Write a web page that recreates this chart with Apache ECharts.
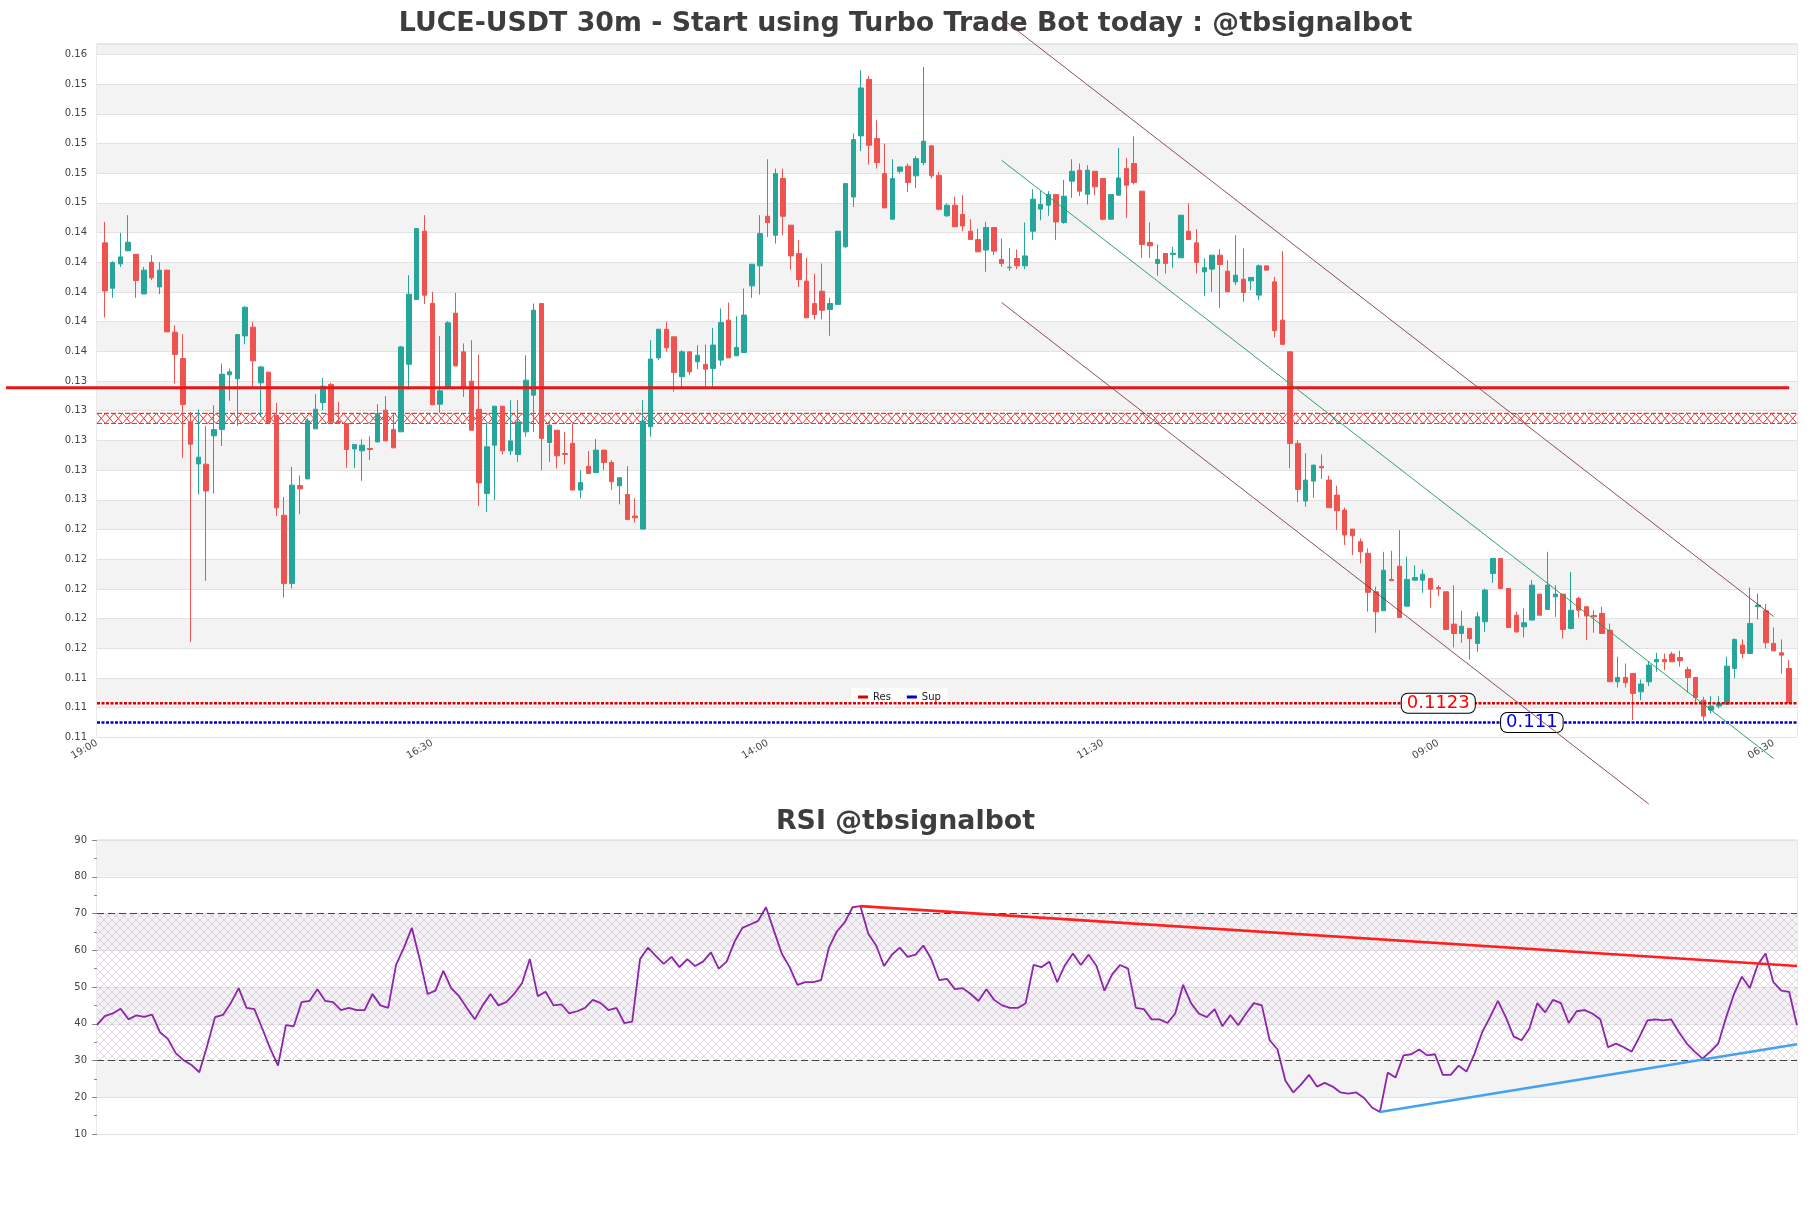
<!DOCTYPE html>
<html><head><meta charset="utf-8">
<script src="https://cdn.jsdelivr.net/npm/echarts/dist/echarts.min.js"></script>
<style>html,body{margin:0;padding:0;background:#fff}#chart{width:1811px;height:1208px}</style>
</head><body><div id="chart"></div>
<script>
// ---------- DATA ----------
const mainTitle = 'LUCE-USDT 30m - Start using Turbo Trade Bot today : @tbsignalbot';
const rsiTitle = 'RSI @tbsignalbot';
const startMinutes = 19 * 60;      // first category 19:00
const stepMinutes = 30;
const categoryCount = 219;
const labelEvery = 43;

// candles [open, close, low, high], first candle at category 1
const candles = [
[0.14331,0.14007,0.13828,0.14472],[0.14025,0.14198,0.13960,0.14207],[0.14189,0.14236,0.14169,0.14398],[0.14277,0.14335,0.14277,0.14517],
[0.14254,0.14077,0.13960,0.14254],[0.13987,0.14147,0.13987,0.14169],[0.14200,0.14095,0.14079,0.14248],[0.14034,0.14147,0.13985,0.14200],
[0.14147,0.13731,0.13731,0.14147],[0.13729,0.13579,0.13383,0.13776],[0.13552,0.13242,0.12883,0.13716],[0.13125,0.12975,0.11643,0.13192],
[0.12842,0.12887,0.12636,0.13208],[0.12840,0.12660,0.12054,0.13096],[0.13031,0.13073,0.12642,0.13237],[0.13073,0.13446,0.12963,0.13518],
[0.13442,0.13462,0.13267,0.13484],[0.13415,0.13713,0.13098,0.13713],[0.13704,0.13897,0.13648,0.13904],[0.13763,0.13536,0.13361,0.13796],
[0.13388,0.13495,0.13159,0.13502],[0.13460,0.13121,0.13114,0.13460],[0.13168,0.12546,0.12492,0.13253],[0.12496,0.12036,0.11942,0.12620],
[0.12036,0.12699,0.12003,0.12822],[0.12696,0.12674,0.12503,0.12764],[0.12741,0.13132,0.12741,0.13148],[0.13078,0.13210,0.13078,0.13311],
[0.13255,0.13365,0.13204,0.13421],[0.13377,0.13123,0.13118,0.13388],[0.13127,0.13118,0.13114,0.13260],[0.13114,0.12939,0.12815,0.13114],
[0.12943,0.12972,0.12815,0.12972],[0.12930,0.12968,0.12728,0.13008],[0.12946,0.12939,0.12867,0.13028],[0.12990,0.13181,0.12990,0.13244],
[0.13204,0.12997,0.12997,0.13298],[0.13073,0.12950,0.12950,0.13181],[0.13058,0.13630,0.13058,0.13637],[0.13513,0.13985,0.13343,0.14113],
[0.13949,0.14427,0.13949,0.14427],[0.14409,0.13978,0.13918,0.14517],[0.13924,0.13240,0.13240,0.14001],[0.13244,0.13334,0.13186,0.13704],
[0.13359,0.13792,0.13343,0.13803],[0.13857,0.13502,0.13502,0.13994],[0.13597,0.13361,0.13293,0.13653],[0.13399,0.13069,0.13069,0.13675],
[0.13210,0.12714,0.12559,0.13579],[0.12642,0.12957,0.12519,0.13118],[0.12968,0.13231,0.12598,0.13231],[0.13231,0.12930,0.12907,0.13231],
[0.12930,0.12997,0.12901,0.13271],[0.12905,0.13125,0.12856,0.13271],[0.13058,0.13406,0.13025,0.13574],[0.13305,0.13877,0.13058,0.13922],
[0.13922,0.13013,0.12800,0.13922],[0.12986,0.13103,0.12856,0.13126],[0.13069,0.12897,0.12811,0.13069],[0.12912,0.12906,0.12838,0.13058],
[0.12980,0.12666,0.12666,0.13114],[0.12666,0.12717,0.12610,0.12800],[0.12826,0.12778,0.12778,0.12928],[0.12784,0.12935,0.12784,0.13009],
[0.12935,0.12852,0.12800,0.12935],[0.12852,0.12722,0.12666,0.12868],[0.12695,0.12749,0.12569,0.12749],[0.12636,0.12468,0.12464,0.12827],
[0.12491,0.12479,0.12446,0.12610],[0.12403,0.13130,0.12403,0.13271],[0.13092,0.13548,0.13025,0.13675],[0.13556,0.13749,0.13541,0.13749],
[0.13749,0.13624,0.13597,0.13799],[0.13698,0.13458,0.13328,0.13698],[0.13429,0.13597,0.13361,0.13608],[0.13597,0.13462,0.13440,0.13597],
[0.13530,0.13574,0.13480,0.13642],[0.13512,0.13480,0.13361,0.13646],[0.13485,0.13642,0.13361,0.13758],[0.13541,0.13794,0.13503,0.13889],
[0.13810,0.13556,0.13556,0.13929],[0.13570,0.13626,0.13570,0.13837],[0.13592,0.13844,0.13592,0.14023],[0.14041,0.14187,0.13960,0.14187],
[0.14176,0.14393,0.13983,0.14517],[0.14510,0.14467,0.14371,0.14894],[0.14382,0.14797,0.14326,0.14831],[0.14764,0.14510,0.14382,0.14831],
[0.14450,0.14243,0.14151,0.14450],[0.14259,0.14084,0.14034,0.14349],[0.14073,0.13826,0.13826,0.14230],[0.13922,0.13848,0.13815,0.14124],
[0.14005,0.13877,0.13815,0.14192],[0.13882,0.13922,0.13705,0.13960],[0.13916,0.14409,0.13916,0.14409],[0.14304,0.14730,0.14297,0.14730],
[0.14640,0.15026,0.14573,0.15067],[0.15051,0.15374,0.14948,0.15493],[0.15432,0.14988,0.14858,0.15455],[0.15033,0.14871,0.14831,0.15156],
[0.14797,0.14566,0.14566,0.14999],[0.14490,0.14764,0.14490,0.14894],[0.14813,0.14842,0.14797,0.14842],[0.14847,0.14737,0.14674,0.14865],
[0.14782,0.14898,0.14701,0.14916],[0.14871,0.15015,0.14853,0.15515],[0.14984,0.14782,0.14764,0.14984],[0.14786,0.14557,0.14551,0.14809],
[0.14513,0.14584,0.14506,0.14596],[0.14584,0.14439,0.14439,0.14641],[0.14522,0.14445,0.14409,0.14652],[0.14409,0.14353,0.14353,0.14490],
[0.14353,0.14270,0.14270,0.14427],[0.14282,0.14434,0.14136,0.14472],[0.14434,0.14275,0.14248,0.14434],[0.14219,0.14192,0.14169,0.14360],
[0.14163,0.14167,0.14142,0.14297],[0.14225,0.14176,0.14154,0.14286],[0.14176,0.14243,0.14154,0.14468],[0.14409,0.14625,0.14349,0.14692],
[0.14558,0.14589,0.14483,0.14679],[0.14584,0.14656,0.14513,0.14679],[0.14656,0.14472,0.14349,0.14656],[0.14468,0.14645,0.14459,0.14753],
[0.14746,0.14813,0.14634,0.14894],[0.14820,0.14679,0.14647,0.14865],[0.14658,0.14820,0.14589,0.14854],[0.14813,0.14708,0.14652,0.14813],
[0.14764,0.14490,0.14483,0.14764],[0.14490,0.14656,0.14490,0.14656],[0.14652,0.14768,0.14652,0.14970],[0.14831,0.14719,0.14499,0.14903],
[0.14865,0.14737,0.14724,0.15049],[0.14679,0.14320,0.14230,0.14679],[0.14333,0.14311,0.14230,0.14468],[0.14192,0.14219,0.14109,0.14320],
[0.14259,0.14192,0.14124,0.14259],[0.14252,0.14261,0.14163,0.14304],[0.14230,0.14517,0.14230,0.14517],[0.14409,0.14353,0.14353,0.14596],
[0.14331,0.14198,0.14124,0.14423],[0.14136,0.14163,0.13974,0.14225],[0.14154,0.14248,0.14001,0.14248],[0.14248,0.14185,0.13893,0.14288],
[0.14140,0.14001,0.14001,0.14214],[0.14068,0.14113,0.14046,0.14382],[0.14086,0.13996,0.13934,0.14293],[0.14075,0.14098,0.14012,0.14098],
[0.13979,0.14176,0.13945,0.14185],[0.14176,0.14147,0.14147,0.14176],[0.14068,0.13739,0.13694,0.14102],[0.13810,0.13647,0.13647,0.14275],
[0.13597,0.12980,0.12812,0.13597],[0.12980,0.12670,0.12583,0.13002],[0.12592,0.12733,0.12554,0.12913],[0.12726,0.12834,0.12614,0.12834],
[0.12825,0.12816,0.12740,0.12906],[0.12733,0.12547,0.12547,0.12762],[0.12632,0.12527,0.12397,0.12695],[0.12531,0.12363,0.12296,0.12547],
[0.12403,0.12358,0.12228,0.12403],[0.12318,0.12251,0.12172,0.12340],[0.12240,0.11977,0.11847,0.12273],[0.11981,0.11846,0.11705,0.12014],
[0.11853,0.12126,0.11853,0.12250],[0.12064,0.12055,0.12055,0.12257],[0.12153,0.11808,0.11808,0.12396],[0.11884,0.12064,0.11884,0.12216],
[0.12059,0.12077,0.12059,0.12160],[0.12059,0.12099,0.11974,0.12131],[0.12070,0.11998,0.11873,0.12070],[0.12010,0.12001,0.11951,0.12025],
[0.11981,0.11727,0.11727,0.11981],[0.11763,0.11700,0.11606,0.12025],[0.11700,0.11749,0.11637,0.11853],[0.11734,0.11666,0.11525,0.11734],
[0.11633,0.11812,0.11577,0.11846],[0.11779,0.11992,0.11711,0.12003],[0.12104,0.12205,0.12041,0.12205],[0.12205,0.12003,0.12003,0.12205],
[0.12003,0.11740,0.11740,0.12003],[0.11823,0.11711,0.11705,0.11846],[0.11745,0.11772,0.11673,0.11868],[0.11790,0.12025,0.11790,0.12059],
[0.11965,0.11823,0.11823,0.11965],[0.11862,0.12025,0.11862,0.12250],[0.11947,0.11965,0.11812,0.12025],[0.11965,0.11727,0.11666,0.11965],
[0.11734,0.11857,0.11727,0.12115],[0.11936,0.11857,0.11808,0.11947],[0.11880,0.11817,0.11655,0.11880],[0.11821,0.11812,0.11705,0.11857],
[0.11835,0.11700,0.11700,0.11880],[0.11722,0.11375,0.11375,0.11767],[0.11375,0.11404,0.11336,0.11543],[0.11404,0.11368,0.11336,0.11498],
[0.11431,0.11296,0.11117,0.11431],[0.11307,0.11359,0.11251,0.11390],[0.11375,0.11487,0.11345,0.11509],[0.11509,0.11525,0.11442,0.11570],
[0.11525,0.11509,0.11453,0.11565],[0.11561,0.11509,0.11509,0.11577],[0.11538,0.11516,0.11476,0.11583],[0.11458,0.11404,0.11301,0.11476],
[0.11404,0.11269,0.11233,0.11404],[0.11251,0.11144,0.11112,0.11274],[0.11184,0.11211,0.11162,0.11278],[0.11211,0.11229,0.11195,0.11278],
[0.11224,0.11480,0.11224,0.11543],[0.11464,0.11660,0.11397,0.11666],[0.11622,0.11565,0.11532,0.11660],[0.11565,0.11767,0.11565,0.12010],
[0.11880,0.11891,0.11794,0.11969],[0.11853,0.11637,0.11599,0.11898],[0.11633,0.11583,0.11583,0.11740],[0.11570,0.11554,0.11431,0.11660],
[0.11464,0.11233,0.11233,0.11520]
];

const rsi = [
39.7,42.1,42.8,44.1,41.2,42.3,41.9,42.5,37.7,35.9,32.0,30.1,28.8,26.8,34.0,41.8,42.4,45.6,49.7,44.3,
44.0,38.7,33.3,28.6,39.6,39.3,45.9,46.2,49.4,46.2,45.9,43.7,44.3,43.7,43.7,48.1,45.0,44.3,56.0,60.7,
66.1,57.6,48.1,49.0,54.4,49.7,47.5,44.3,41.2,45.0,48.1,45.0,45.9,48.1,51.0,57.6,47.5,48.7,45.0,45.3,
42.8,43.4,44.3,46.5,45.6,43.7,44.3,40.2,40.6,57.6,60.7,58.5,56.3,58.2,55.4,57.6,55.7,56.9,59.4,55.0,
56.9,62.3,66.1,67.0,68.0,71.7,65.4,59.1,55.4,50.6,51.3,51.3,51.9,60.7,65.1,67.6,71.7,72.0,64.5,61.3,
55.7,58.8,60.7,58.2,58.8,61.3,57.6,51.9,52.2,49.4,49.7,48.1,46.2,49.4,46.5,45.0,44.3,44.3,45.6,56.0,
55.4,56.9,51.3,56.0,59.1,56.0,58.8,55.7,49.0,53.5,56.0,55.0,44.3,44.0,41.2,41.2,40.2,42.8,50.6,45.6,
42.8,41.8,44.0,39.3,42.4,39.6,42.8,45.6,45.0,35.5,33.0,24.5,21.3,23.5,26.1,22.9,23.9,22.9,21.3,21.0,
21.3,19.8,17.2,16.0,26.7,25.4,31.4,31.7,33.0,31.4,31.7,26.1,26.1,28.6,27.0,31.7,37.7,41.8,46.2,41.8,
36.5,35.5,38.7,45.6,43.1,46.5,45.6,40.2,43.4,43.7,42.8,41.2,33.6,34.6,33.6,32.4,36.5,40.9,41.2,40.9,
41.2,37.7,34.6,32.4,30.5,32.4,34.6,41.8,48.1,52.8,49.7,56.0,59.1,51.3,49.0,48.7,39.6
];

const priceMin = 0.110, priceMax = 0.1567, priceStep = 0.002;
const resLevel = 0.1123, supLevel = 0.111;
const keyLevel = 0.13355;
const zoneLow = 0.13114, zoneHigh = 0.13182;
const channelUpper = [[116, 0.15843], [215, 0.11814]];
const channelMid = [[116, 0.14887], [215, 0.10858]];
const channelLower = [[116, 0.13929], [199, 0.10551]];
const resLabelAt = 172.4, supLabelAt = 183.7;
const rsiMin = 10, rsiMax = 90, rsiStep = 10;
const rsiOverbought = 70, rsiOversold = 30;
const rsiUpperTrend = [[97, 72.0], [216, 55.7]];
const rsiLowerTrend = [[163, 16.0], [216, 34.4]];

// ---------- BUILD ----------
const categories = [];
for (let k = 0; k < categoryCount; k++) {
  const m = (startMinutes + stepMinutes * k) % 1440;
  categories.push(String(Math.floor(m / 60)).padStart(2, '0') + ':' + String(m % 60).padStart(2, '0'));
}
const candleData = candles.map((c, k) => [k + 1, c[0], c[1], c[2], c[3]]);
const rsiCategories = rsi.map((v, k) => String(k));

function makeHatch(size, color) {
  const c = document.createElement('canvas');
  c.width = size; c.height = size;
  const g = c.getContext('2d');
  g.strokeStyle = color; g.lineWidth = 0.8;
  g.beginPath();
  g.moveTo(0, 0); g.lineTo(size, size);
  g.moveTo(size, 0); g.lineTo(0, size);
  g.stroke();
  return c;
}

// horizontal level drawn through the axis scales across the whole plot width
function levelRenderer(color, width, dash) {
  return function (params, api) {
    const cs = params.coordSys;
    const y = api.coord([0, api.value(1)])[1];
    return {type: 'line', shape: {x1: cs.x, y1: y, x2: cs.x + cs.width, y2: y},
            style: {stroke: color, lineWidth: width, lineDash: dash}};
  };
}

const FONT = 'DejaVu Sans';
const chart = echarts.init(document.getElementById('chart'), null, {renderer: 'canvas'});

const labelBox = {show: true, position: 'inside', fontSize: 18, fontFamily: FONT,
  backgroundColor: '#ffffff', borderColor: '#000', borderWidth: 1, borderRadius: 6, padding: [0, 5], lineHeight: 19};

const option = {
  backgroundColor: '#ffffff',
  animation: false,
  textStyle: {fontFamily: FONT},
  title: [
    {text: mainTitle, left: 'center', top: 6, textStyle: {fontSize: 26.8, fontWeight: 'bold', color: '#3d3d3d', fontFamily: FONT}},
    {text: rsiTitle, left: 'center', top: 804, textStyle: {fontSize: 26.8, fontWeight: 'bold', color: '#3d3d3d', fontFamily: FONT}}
  ],
  legend: {
    data: ['Res', 'Sup'], left: 851, top: 688, icon: 'rect', itemWidth: 10, itemHeight: 3, itemGap: 16,
    padding: [4, 7], backgroundColor: 'rgba(255,255,255,0.9)', borderRadius: 3,
    textStyle: {fontSize: 10, color: '#222', fontFamily: FONT}
  },
  grid: [
    {left: 97, right: 14, top: 44, height: 693.4, show: true, borderColor: '#d4d4d4', borderWidth: 1, backgroundColor: 'transparent', outerBoundsMode: 'none'},
    {left: 97, right: 14, top: 840, height: 294, show: true, borderColor: '#d4d4d4', borderWidth: 1, backgroundColor: 'transparent', outerBoundsMode: 'none'}
  ],
  xAxis: [
    {type: 'category', gridIndex: 0, data: categories, boundaryGap: false,
     axisLine: {show: false}, axisTick: {show: false}, splitLine: {show: false},
     axisLabel: {interval: labelEvery - 1, rotate: 30, fontSize: 10, color: '#444', margin: 5, fontFamily: FONT}},
    {type: 'category', gridIndex: 1, data: rsiCategories, boundaryGap: false,
     axisLine: {show: false}, axisTick: {show: false}, splitLine: {show: false}, axisLabel: {show: false}}
  ],
  yAxis: [
    {type: 'value', gridIndex: 0, min: priceMin, max: priceMax, interval: priceStep, scale: true,
     axisLine: {show: false}, axisTick: {show: false},
     axisLabel: {formatter: v => v.toFixed(2), showMaxLabel: false, fontSize: 10, color: '#444', margin: 10, fontFamily: FONT},
     splitLine: {show: true, lineStyle: {color: '#e2e2e2', width: 1}},
     splitArea: {show: true, areaStyle: {color: ['#ffffff', '#f3f3f3']}}},
    {type: 'value', gridIndex: 1, min: rsiMin, max: rsiMax, interval: rsiStep,
     axisLine: {show: false}, axisTick: {show: true, length: 5, lineStyle: {color: '#888'}},
     minorTick: {show: true, splitNumber: 2, length: 3, lineStyle: {color: '#888'}},
     axisLabel: {fontSize: 10, color: '#444', margin: 10, fontFamily: FONT},
     splitLine: {show: true, lineStyle: {color: '#e2e2e2', width: 1}},
     splitArea: {show: true, areaStyle: {color: ['#ffffff', '#f3f3f3']}}}
  ],
  series: [
    {
      type: 'custom', name: 'zone', coordinateSystem: 'cartesian2d', xAxisIndex: 0, yAxisIndex: 0,
      data: [[0, zoneLow, zoneHigh]], encode: {x: 0, y: [1, 2]}, silent: true, z: 1,
      renderItem: function (params, api) {
        const cs = params.coordSys;
        const yTop = api.coord([0, api.value(2)])[1];
        const yBot = api.coord([0, api.value(1)])[1];
        const x0 = cs.x, x1 = cs.x + cs.width, w = 8.5;
        const p1 = [], p2 = [];
        let k = 0;
        for (let x = x0; x <= x1 + 0.01; x += w, k++) {
          p1.push([x, k % 2 ? yBot : yTop]);
          p2.push([x, k % 2 ? yTop : yBot]);
        }
        const st = {stroke: '#e53935', lineWidth: 1, fill: null};
        return {type: 'group', children: [
          {type: 'polyline', shape: {points: p1}, style: st},
          {type: 'polyline', shape: {points: p2}, style: st},
          {type: 'line', shape: {x1: x0, y1: yTop, x2: x1, y2: yTop}, style: {stroke: '#e53935', lineWidth: 1.2, lineDash: [5, 2]}},
          {type: 'line', shape: {x1: x0, y1: yBot, x2: x1, y2: yBot}, style: {stroke: '#e53935', lineWidth: 1.2, lineDash: [5, 2]}}
        ]};
      }
    },
    {
      type: 'candlestick', name: 'price', xAxisIndex: 0, yAxisIndex: 0,
      data: candleData, encode: {x: 0, y: [1, 2, 3, 4]}, barWidth: 5, z: 3,
      itemStyle: {color: '#26a69a', color0: '#ef5350', borderColor: '#26a69a', borderColor0: '#ef5350', borderWidth: 1}
    },
    {
      type: 'custom', name: 'key', coordinateSystem: 'cartesian2d', xAxisIndex: 0, yAxisIndex: 0,
      data: [[0, keyLevel]], encode: {x: 0, y: 1}, silent: true, z: 4, clip: false,
      renderItem: function (params, api) {
        const cs = params.coordSys;
        const y = api.coord([0, api.value(1)])[1];
        const xEnd = api.coord([candles.length, api.value(1)])[0];
        return {type: 'line', shape: {x1: cs.x - 91, y1: y, x2: xEnd, y2: y}, style: {stroke: '#e8161b', lineWidth: 3}};
      }
    },
    {
      type: 'custom', name: 'Res', coordinateSystem: 'cartesian2d', xAxisIndex: 0, yAxisIndex: 0,
      data: [[0, resLevel]], encode: {x: 0, y: 1}, silent: true, z: 5,
      itemStyle: {color: '#dd0000'},
      renderItem: levelRenderer('#dd0000', 2.5, [3, 1.5]),
      markPoint: {symbol: 'rect', symbolSize: 0.01, silent: true,
        label: Object.assign({formatter: String(resLevel), color: '#ff0000'}, labelBox),
        data: [{coord: [resLabelAt, resLevel]}]}
    },
    {
      type: 'custom', name: 'Sup', coordinateSystem: 'cartesian2d', xAxisIndex: 0, yAxisIndex: 0,
      data: [[0, supLevel]], encode: {x: 0, y: 1}, silent: true, z: 5,
      itemStyle: {color: '#0000cc'},
      renderItem: levelRenderer('#0000cc', 2.5, [3, 1.5]),
      markPoint: {symbol: 'rect', symbolSize: 0.01, silent: true,
        label: Object.assign({formatter: String(supLevel), color: '#0000ee'}, labelBox),
        data: [{coord: [supLabelAt, supLevel]}]}
    },
    {type: 'line', name: 'chanUpper', xAxisIndex: 0, yAxisIndex: 0, data: channelUpper, symbol: 'none', clip: false, silent: true, z: 6,
     lineStyle: {color: 'rgba(120,50,60,0.85)', width: 1}},
    {type: 'line', name: 'chanMid', xAxisIndex: 0, yAxisIndex: 0, data: channelMid, symbol: 'none', clip: false, silent: true, z: 6,
     lineStyle: {color: 'rgba(30,150,90,0.9)', width: 1}},
    {type: 'line', name: 'chanLower', xAxisIndex: 0, yAxisIndex: 0, data: channelLower, symbol: 'none', clip: false, silent: true, z: 6,
     lineStyle: {color: 'rgba(120,50,60,0.85)', width: 1}},
    {
      type: 'line', name: 'RSI', xAxisIndex: 1, yAxisIndex: 1, data: rsi, symbol: 'none', z: 4,
      lineStyle: {color: '#8e24aa', width: 1.8}, itemStyle: {color: '#8e24aa'},
      markArea: {silent: true, itemStyle: {color: {image: makeHatch(8, 'rgba(175,130,190,0.42)'), repeat: 'repeat'}},
        data: [[{yAxis: rsiOversold}, {yAxis: rsiOverbought}]]},
      markLine: {silent: true, symbol: ['none', 'none'], label: {show: false},
        lineStyle: {color: '#444', width: 1.2, type: [7, 4]}, data: [{yAxis: rsiOverbought}, {yAxis: rsiOversold}]}
    },
    {type: 'line', name: 'rsiUpper', xAxisIndex: 1, yAxisIndex: 1, data: rsiUpperTrend, symbol: 'none', silent: true, z: 5,
     lineStyle: {color: '#ff1f1f', width: 2.6}},
    {type: 'line', name: 'rsiLower', xAxisIndex: 1, yAxisIndex: 1, data: rsiLowerTrend, symbol: 'none', silent: true, z: 5,
     lineStyle: {color: '#45a2f0', width: 2.6}}
  ]
};
chart.setOption(option);
</script></body></html>
